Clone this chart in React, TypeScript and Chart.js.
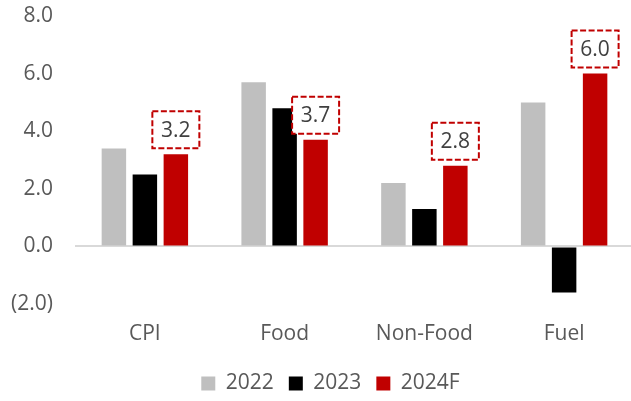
import React, { useEffect, useRef } from "react";
import { Chart, registerables } from "chart.js";

Chart.register(...registerables);

const categories = ["CPI", "Food", "Non-Food", "Fuel"];
const seriesNames = ["2022", "2023", "2024F"];
const values2022 = [3.4, 5.7, 2.2, 5.0];
const values2023 = [2.5, 4.8, 1.3, -1.6];
const values2024F = [3.2, 3.7, 2.8, 6.0];
const seriesColors = ["#bfbfbf", "#000000", "#c00000"];
const yTicks = { min: -2, max: 8, step: 2 };

const FONT = "'Open Sans', sans-serif";
const TEXT = "#595959";
const SIZE = 21;

// Dashed value callouts above the forecast bars
const calloutPlugin = {
  id: "forecastCallouts",
  afterDatasetsDraw(chart: any) {
    const meta = chart.getDatasetMeta(2);
    const data = chart.data.datasets[2].data as number[];
    const ctx = chart.ctx as CanvasRenderingContext2D;
    const w = 47;
    const h = 37;
    ctx.save();
    meta.data.forEach((bar: any, i: number) => {
      const cx = bar.x;
      const bottom = bar.y - 6;
      const left = cx - w / 2;
      const top = bottom - h;
      ctx.fillStyle = "#ffffff";
      ctx.fillRect(left, top, w, h);
      ctx.setLineDash([6, 2.5]);
      ctx.lineWidth = 2;
      ctx.strokeStyle = "#c00000";
      ctx.strokeRect(left, top, w, h);
      ctx.setLineDash([]);
      ctx.fillStyle = "#404040";
      ctx.font = `${SIZE}px ${FONT}`;
      ctx.textAlign = "center";
      ctx.textBaseline = "middle";
      ctx.fillText(data[i].toFixed(1), cx, top + h / 2 + 1);
    });
    ctx.restore();
  },
};

export default function App() {
  const ref = useRef<HTMLCanvasElement | null>(null);

  useEffect(() => {
    if (!ref.current) return;
    const chart = new Chart(ref.current, {
      type: "bar",
      data: {
        labels: categories,
        datasets: [values2022, values2023, values2024F].map((d, i) => ({
          label: seriesNames[i],
          data: d,
          backgroundColor: seriesColors[i],
          borderWidth: 0,
          yAxisID: "y",
          categoryPercentage: 0.665,
          barPercentage: 0.79,
        })),
      },
      options: {
        responsive: false,
        animation: false,
        layout: { padding: { top: 16, left: 0, right: 0, bottom: 0 } },
        plugins: {
          tooltip: { enabled: false },
          legend: {
            position: "bottom",
            maxHeight: 43,
            labels: {
              boxWidth: 14,
              boxHeight: 14,
              padding: 15,
              color: TEXT,
              font: { family: FONT, size: SIZE },
            },
          },
        },
        scales: {
          x: {
            grid: { display: false },
            border: { display: false },
            ticks: {
              color: TEXT,
              padding: 9,
              font: { family: FONT, size: SIZE },
            },
            afterFit: (scale: any) => {
              scale.height = 54;
            },
          },
          y: {
            min: yTicks.min,
            max: yTicks.max,
            border: { display: false },
            grid: {
              drawTicks: false,
              lineWidth: 2,
              color: (c: any) => (c.tick && c.tick.value === 0 ? "#d9d9d9" : "rgba(0,0,0,0)"),
            },
            ticks: {
              stepSize: yTicks.step,
              color: TEXT,
              padding: 22,
              font: { family: FONT, size: SIZE },
              callback: (v: any) => {
                const n = Number(v);
                return n < 0 ? `(${Math.abs(n).toFixed(1)})` : n.toFixed(1);
              },
            },
            afterFit: (scale: any) => {
              scale.width = 75;
              scale.paddingTop = 0;
              scale.paddingBottom = 0;
            },
          },
          // empty right-hand margin axis
          margin: {
            type: "linear",
            position: "right",
            display: true,
            grid: { display: false },
            border: { display: false },
            ticks: { display: false },
            afterFit: (scale: any) => {
              scale.width = 27;
              scale.paddingTop = 0;
              scale.paddingBottom = 0;
            },
          },
        },
      },
      plugins: [calloutPlugin],
    });
    return () => chart.destroy();
  }, []);

  return (
    <div
      style={{
        position: "fixed",
        left: 0,
        top: 0,
        width: 631,
        height: 401,
        overflow: "hidden",
        background: "#ffffff",
      }}
    >
      <canvas ref={ref} width={661} height={401} />
    </div>
  );
}
